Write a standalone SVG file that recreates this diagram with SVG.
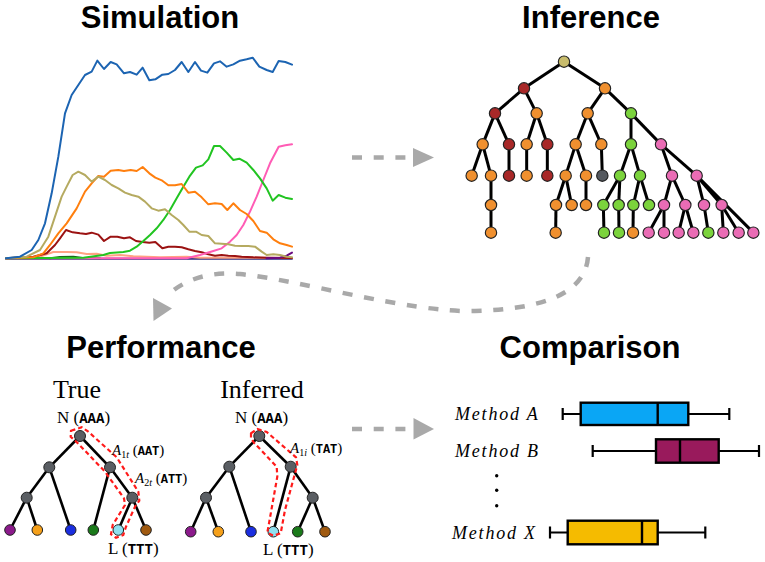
<svg xmlns="http://www.w3.org/2000/svg" width="765" height="562" viewBox="0 0 765 562">
<style>
.title{font-family:"Liberation Sans",Arial,sans-serif;font-weight:bold;font-size:31px;fill:#000;text-anchor:middle}
.serif{font-family:"Liberation Serif","Times New Roman",serif;fill:#000}
.mono{font-family:"Liberation Mono","Courier New",monospace;font-weight:bold}
.ln{fill:none;stroke-width:6;stroke-linejoin:round;stroke-linecap:round}
.te{stroke:#000;stroke-width:9}
.tn{stroke:#222;stroke-width:3.5}
.pe{stroke:#000;stroke-width:2.6}
.pn{stroke:#222;stroke-width:1}
.path{fill:none;stroke:#ff1a1a;stroke-width:2.2;stroke-dasharray:4.5 3}
.dash{fill:none;stroke:#a9a9a9;stroke-width:4.5;stroke-dasharray:10 11.7}
.head{fill:#a9a9a9}
.box{stroke:#000;stroke-width:2.4}
.wh{stroke:#000;stroke-width:2.2;fill:none}
.meth{font-family:"Liberation Serif","Times New Roman",serif;font-style:italic;font-size:18px;letter-spacing:1.8px}
</style>

<g id="titles">
<text class="title" x="160" y="28">Simulation</text>
<text class="title" x="591" y="28">Inference</text>
<text class="title" x="161" y="358">Performance</text>
<text class="title" x="590" y="358">Comparison</text>
</g>

<g id="simulation" transform="translate(0 40) scale(0.33333)">
<polyline class="ln" stroke="#2b2b80" points="18,656 876,656"/>
<polyline class="ln" stroke="#1a6a1a" points="150,655 180,651 220,650 250,654 300,655"/>
<polyline class="ln" stroke="#ffa283" points="18,655 120,650 160,636 200,636 230,637 260,642 290,641 320,647 360,645 400,649 440,650 480,652 520,651 560,650 600,653 876,654"/>
<polyline class="ln" stroke="#9b1212" points="18,655 100,650 140,640 165,615 180,595 198,570 218,577 240,580 258,582 275,578 295,584 312,603 332,590 352,590 372,595 390,592 408,603 428,606 448,608 466,606 487,625 505,620 525,620 545,622 565,628 585,633 605,637 625,643 645,647 665,645 685,647 705,648 725,650 760,652 800,653 876,654"/>
<polyline class="ln" stroke="#6a0a80" points="800,655 840,653 860,647 876,638"/>
<polyline class="ln" stroke="#ff5cb5" points="18,655 560,655 600,645 640,633 665,625 690,605 710,585 730,555 750,515 770,470 790,420 810,370 836,320 856,316 876,313"/>
<polyline class="ln" stroke="#21c421" points="18,655 250,653 310,645 330,639 370,636 390,632 410,620 430,603 450,585 470,565 490,540 510,510 530,475 550,440 568,410 588,383 608,376 625,358 642,318 660,318 680,338 700,360 718,356 740,368 760,390 780,415 800,445 818,482 836,465 856,473 876,477"/>
<polyline class="ln" stroke="#ff7f0e" points="18,655 100,652 130,640 150,615 175,580 200,550 230,505 255,455 275,430 295,408 312,410 332,392 355,390 372,393 392,390 410,393 428,381 448,400 466,413 487,422 505,436 525,436 545,432 565,458 585,455 605,472 625,493 645,490 665,492 682,510 700,490 720,510 740,522 760,543 780,573 800,578 820,598 840,610 860,615 876,620"/>
<polyline class="ln" stroke="#b5aa60" points="18,655 80,650 120,630 145,590 165,530 185,470 200,440 218,405 235,395 255,405 275,425 295,410 315,420 335,435 355,445 375,458 395,465 415,470 435,485 455,505 475,512 495,508 515,525 535,540 550,555 568,575 588,575 605,585 625,588 645,610 665,611 685,613 705,617 725,618 745,618 765,620 785,635 800,645 820,643 840,645 860,650 876,652"/>
<polyline class="ln" stroke="#1c64b2" points="18,655 60,650 95,630 115,600 135,550 155,460 175,350 195,220 215,165 235,135 255,105 275,95 292,62 312,87 332,66 350,73 372,100 390,96 410,104 428,83 448,121 466,118 487,104 505,102 525,90 545,66 565,96 585,66 603,92 622,98 642,70 660,64 680,80 700,73 720,62 740,58 758,53 778,80 800,90 818,96 836,63 856,66 876,74"/>
</g>

<g id="inference" transform="translate(460 50) scale(0.33333)">
<g id="inference-edges" class="te">
<line x1="312" y1="35" x2="192" y2="115"/><line x1="312" y1="35" x2="435" y2="115"/>
<line x1="192" y1="115" x2="105" y2="190"/><line x1="192" y1="115" x2="230" y2="190"/>
<line x1="435" y1="115" x2="383" y2="190"/><line x1="435" y1="115" x2="513" y2="190"/>
<line x1="105" y1="190" x2="68" y2="283"/><line x1="105" y1="190" x2="147" y2="283"/>
<line x1="230" y1="190" x2="200" y2="283"/><line x1="230" y1="190" x2="262" y2="283"/>
<line x1="383" y1="190" x2="347" y2="283"/><line x1="383" y1="190" x2="424" y2="283"/>
<line x1="513" y1="190" x2="513" y2="283"/><line x1="513" y1="190" x2="603" y2="283"/>
<line x1="68" y1="283" x2="35" y2="377"/><line x1="68" y1="283" x2="93" y2="377"/>
<line x1="147" y1="283" x2="147" y2="377"/><line x1="200" y1="283" x2="200" y2="377"/>
<line x1="262" y1="283" x2="262" y2="377"/>
<line x1="347" y1="283" x2="317" y2="377"/><line x1="347" y1="283" x2="378" y2="377"/>
<line x1="424" y1="283" x2="427" y2="377"/>
<line x1="513" y1="283" x2="480" y2="377"/><line x1="513" y1="283" x2="540" y2="377"/>
<line x1="603" y1="283" x2="636" y2="377"/><line x1="603" y1="283" x2="710" y2="377"/>
<line x1="93" y1="377" x2="93" y2="465"/>
<line x1="317" y1="377" x2="288" y2="465"/><line x1="317" y1="377" x2="335" y2="465"/>
<line x1="378" y1="377" x2="378" y2="465"/>
<line x1="480" y1="377" x2="430" y2="465"/><line x1="480" y1="377" x2="476" y2="465"/>
<line x1="540" y1="377" x2="520" y2="465"/><line x1="540" y1="377" x2="567" y2="465"/>
<line x1="636" y1="377" x2="612" y2="465"/><line x1="636" y1="377" x2="676" y2="465"/>
<line x1="710" y1="377" x2="732" y2="465"/><line x1="710" y1="377" x2="785" y2="465"/>
<line x1="710" y1="377" x2="880" y2="548"/>
<line x1="93" y1="465" x2="93" y2="548"/><line x1="288" y1="465" x2="287" y2="548"/>
<line x1="430" y1="465" x2="432" y2="548"/><line x1="476" y1="465" x2="477" y2="548"/>
<line x1="520" y1="465" x2="519" y2="548"/>
<line x1="612" y1="465" x2="566" y2="548"/><line x1="612" y1="465" x2="612" y2="548"/>
<line x1="676" y1="465" x2="656" y2="548"/><line x1="676" y1="465" x2="700" y2="548"/>
<line x1="732" y1="465" x2="745" y2="548"/>
<line x1="785" y1="465" x2="790" y2="548"/><line x1="785" y1="465" x2="836" y2="548"/>
</g>
<g id="inference-nodes" class="tn">
<circle cx="312" cy="35" r="17" fill="#c8bc6c"/>
<g fill="#a82828">
<circle cx="192" cy="115" r="17"/><circle cx="105" cy="190" r="17"/><circle cx="147" cy="283" r="17"/><circle cx="262" cy="283" r="17"/><circle cx="147" cy="377" r="17"/><circle cx="262" cy="377" r="17"/>
</g>
<g fill="#f0902f">
<circle cx="435" cy="115" r="17"/><circle cx="230" cy="190" r="17"/><circle cx="383" cy="190" r="17"/>
<circle cx="68" cy="283" r="17"/><circle cx="200" cy="283" r="17"/><circle cx="347" cy="283" r="17"/><circle cx="424" cy="283" r="17"/>
<circle cx="35" cy="377" r="17"/><circle cx="93" cy="377" r="17"/><circle cx="200" cy="377" r="17"/><circle cx="317" cy="377" r="17"/><circle cx="378" cy="377" r="17"/>
<circle cx="93" cy="465" r="17"/><circle cx="288" cy="465" r="17"/><circle cx="335" cy="465" r="17"/><circle cx="378" cy="465" r="17"/>
<circle cx="93" cy="548" r="17"/><circle cx="287" cy="548" r="17"/><circle cx="519" cy="548" r="17"/>
</g>
<circle cx="427" cy="377" r="17" fill="#55595f"/>
<g fill="#7bd33c">
<circle cx="513" cy="190" r="17"/><circle cx="513" cy="283" r="17"/><circle cx="480" cy="377" r="17"/><circle cx="540" cy="377" r="17"/>
<circle cx="430" cy="465" r="17"/><circle cx="476" cy="465" r="17"/><circle cx="520" cy="465" r="17"/><circle cx="567" cy="465" r="17"/>
<circle cx="432" cy="548" r="17"/><circle cx="477" cy="548" r="17"/><circle cx="745" cy="548" r="17"/>
</g>
<g fill="#ea6cb5">
<circle cx="603" cy="283" r="17"/><circle cx="636" cy="377" r="17"/><circle cx="710" cy="377" r="17"/>
<circle cx="612" cy="465" r="17"/><circle cx="676" cy="465" r="17"/><circle cx="732" cy="465" r="17"/><circle cx="785" cy="465" r="17"/>
<circle cx="566" cy="548" r="17"/><circle cx="612" cy="548" r="17"/><circle cx="656" cy="548" r="17"/><circle cx="700" cy="548" r="17"/><circle cx="790" cy="548" r="17"/><circle cx="836" cy="548" r="17"/><circle cx="880" cy="548" r="17"/>
</g>
</g>
</g>

<g id="connectors">
<line class="dash" x1="352" y1="157.5" x2="407" y2="157.5"/>
<polygon class="head" points="413,148 434,157.5 413,167"/>
<line class="dash" x1="352" y1="429" x2="407" y2="429"/>
<polygon class="head" points="413.5,418 434,429 413.5,439.5"/>
<path class="dash" d="M588 257 C585 295 540 309 475 311 C410 313 300 280 240 274 C205 271 183 282 170 293"/>
<polygon class="head" points="153,298 172,308.5 153.5,321"/>
</g>

<g id="true-tree">
<text class="serif" x="77" y="398" font-size="26" text-anchor="middle">True</text>
<g class="pe">
<line x1="80" y1="436" x2="49.3" y2="467.3"/><line x1="80" y1="436" x2="110" y2="467.3"/>
<line x1="49.3" y1="467.3" x2="26.7" y2="497.7"/><line x1="49.3" y1="467.3" x2="70.7" y2="530"/>
<line x1="26.7" y1="497.7" x2="10" y2="530"/><line x1="26.7" y1="497.7" x2="37.3" y2="530"/>
<line x1="110" y1="467.3" x2="93.3" y2="530"/><line x1="110" y1="467.3" x2="132.3" y2="497.7"/>
<line x1="132.3" y1="497.7" x2="118.3" y2="530"/><line x1="132.3" y1="497.7" x2="146" y2="530"/>
</g>
<g class="pn">
<circle cx="80" cy="436" r="5.5" fill="#5a5e63"/><circle cx="49.3" cy="467.3" r="5.5" fill="#5a5e63"/><circle cx="110" cy="467.3" r="5.5" fill="#5a5e63"/>
<circle cx="26.7" cy="497.7" r="5.5" fill="#5a5e63"/><circle cx="132.3" cy="497.7" r="5.5" fill="#5a5e63"/>
<circle cx="10" cy="530" r="5.3" fill="#8b1a8b"/><circle cx="37.3" cy="530" r="5.3" fill="#f5a01a"/><circle cx="70.7" cy="530" r="5.3" fill="#1a2ee0"/>
<circle cx="93.3" cy="530" r="5.3" fill="#1a7a1a"/><circle cx="118.3" cy="530" r="5.3" fill="#8fe0f0"/><circle cx="146" cy="530" r="5.3" fill="#a05a10"/>
</g>
<path class="path" d="M71 430.7 L81.7 427.3 L88.3 431.7 L116.7 457.3 L138.3 491.7 L139.3 500.7 L135 506.7 L126 526.7 L123.3 535 L116 537.7 L111 534.3 L112.7 525 L125 505 L124 498.3 L105 471.7 L77.3 442.7 L70.7 436.7 Z"/>
<text class="serif" x="57" y="423" font-size="17">N (<tspan class="mono" font-size="14">AAA</tspan>)</text>
<text class="serif" x="112" y="455" font-size="15"><tspan font-style="italic">A</tspan><tspan font-size="10" dy="3">1<tspan font-style="italic">t</tspan></tspan><tspan dy="-3"> (</tspan><tspan class="mono" font-size="12">AAT</tspan>)</text>
<text class="serif" x="135" y="483" font-size="15"><tspan font-style="italic">A</tspan><tspan font-size="10" dy="3">2<tspan font-style="italic">t</tspan></tspan><tspan dy="-3"> (</tspan><tspan class="mono" font-size="12">ATT</tspan>)</text>
<text class="serif" x="108" y="554" font-size="17">L (<tspan class="mono" font-size="14">TTT</tspan>)</text>
</g>

<g id="inferred-tree">
<text class="serif" x="262" y="398" font-size="26" text-anchor="middle">Inferred</text>
<g class="pe">
<line x1="259.3" y1="436" x2="229.3" y2="466.7"/><line x1="259.3" y1="436" x2="290.7" y2="466.7"/>
<line x1="229.3" y1="466.7" x2="206" y2="497.7"/><line x1="229.3" y1="466.7" x2="251" y2="531.7"/>
<line x1="206" y1="497.7" x2="190.7" y2="531.7"/><line x1="206" y1="497.7" x2="218.3" y2="531.7"/>
<line x1="290.7" y1="466.7" x2="273.3" y2="531.7"/><line x1="290.7" y1="466.7" x2="312.7" y2="497.7"/>
<line x1="312.7" y1="497.7" x2="297.7" y2="531.7"/><line x1="312.7" y1="497.7" x2="325" y2="531.7"/>
</g>
<g class="pn">
<circle cx="259.3" cy="436" r="5.5" fill="#5a5e63"/><circle cx="229.3" cy="466.7" r="5.5" fill="#5a5e63"/><circle cx="290.7" cy="466.7" r="5.5" fill="#5a5e63"/>
<circle cx="206" cy="497.7" r="5.5" fill="#5a5e63"/><circle cx="312.7" cy="497.7" r="5.5" fill="#5a5e63"/>
<circle cx="190.7" cy="531.7" r="5.3" fill="#8b1a8b"/><circle cx="218.3" cy="531.7" r="5.3" fill="#f5a01a"/><circle cx="251" cy="531.7" r="5.3" fill="#1a2ee0"/>
<circle cx="273.3" cy="531.7" r="5.3" fill="#8fe0f0"/><circle cx="297.7" cy="531.7" r="5.3" fill="#1a7a1a"/><circle cx="325" cy="531.7" r="5.3" fill="#a05a10"/>
</g>
<path class="path" d="M251 433.3 L257.3 429 L266.7 432 L296 457.3 L297.3 465 L285 510 L280.7 533.3 L273.3 535.7 L267.3 532.7 L269.3 521.7 L277.3 476.7 L276.7 466.7 L254 442.7 L251 438.3 Z"/>
<text class="serif" x="235" y="423" font-size="17">N (<tspan class="mono" font-size="14">AAA</tspan>)</text>
<text class="serif" x="290" y="453" font-size="15"><tspan font-style="italic">A</tspan><tspan font-size="10" dy="3">1<tspan font-style="italic">i</tspan></tspan><tspan dy="-3"> (</tspan><tspan class="mono" font-size="12">TAT</tspan>)</text>
<text class="serif" x="263" y="555" font-size="17">L (<tspan class="mono" font-size="14">TTT</tspan>)</text>
</g>

<g id="comparison">
<g id="method-a">
<text class="meth" x="455" y="420">Method A</text>
<path class="wh" d="M562.7 408 V420 M562.7 414 H580.7 M688.3 414 H729.3 M729.3 408 V420"/>
<rect class="box" x="580.7" y="402.7" width="107.6" height="22.3" fill="#0aa6f5"/>
<line class="box" x1="657.7" y1="402.7" x2="657.7" y2="425"/>
</g>
<g id="method-b">
<text class="meth" x="455" y="457">Method B</text>
<path class="wh" d="M592.7 445 V457 M592.7 451 H656 M718.7 451 H759 M759 445 V457"/>
<rect class="box" x="656" y="439.3" width="62.7" height="23.4" fill="#991a5c"/>
<line class="box" x1="680" y1="439.3" x2="680" y2="462.7"/>
</g>
<g id="dots" fill="#000">
<circle cx="496.7" cy="475.7" r="1.7"/><circle cx="496.7" cy="490.3" r="1.7"/><circle cx="496.7" cy="505.7" r="1.7"/>
</g>
<g id="method-x">
<text class="meth" x="452" y="538.5">Method X</text>
<path class="wh" d="M550 526.5 V538.5 M550 532.5 H567.7 M657.7 532.5 H705.3 M705.3 526.5 V538.5"/>
<rect class="box" x="567.7" y="520.7" width="90" height="23.6" fill="#f5bb00"/>
<line class="box" x1="642" y1="520.7" x2="642" y2="544.3"/>
</g>
</g>
</svg>
